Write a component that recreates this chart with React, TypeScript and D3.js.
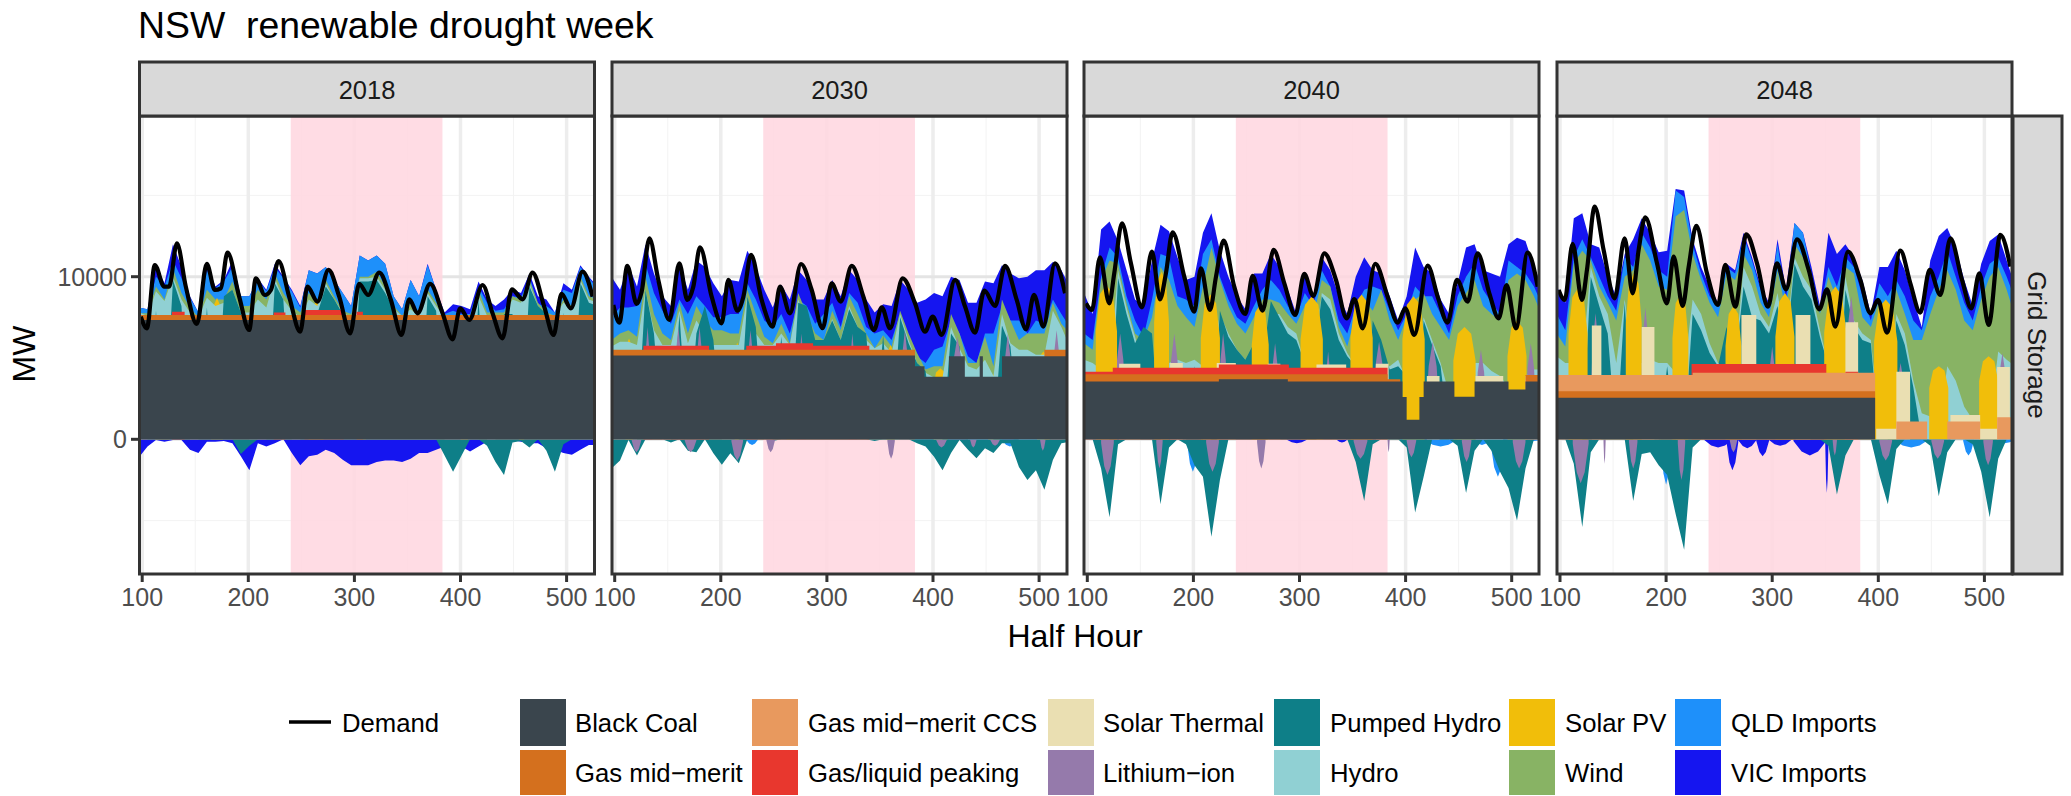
import React from "react";
import * as d3 from "d3";

const years = ["2018", "2030", "2040", "2048"];
const xTicks = [100, 200, 300, 400, 500];
const yTicks = [0, 10000];
const droughtWeek = [240, 383];
const grid = d3.range(97, 530, 8);

const colors: Record<string, string> = {
  "Black Coal": "#3A454D", "Gas mid−merit": "#D4701E", "Gas mid−merit CCS": "#E8995E", "Gas/liquid peaking": "#E8372E",
  "Solar Thermal": "#EADFB2", "Lithium−ion": "#957AAB", "Pumped Hydro": "#0E7F88", "Hydro": "#90D0D3",
  "Solar PV": "#F1BE0A", "Wind": "#88B364", "QLD Imports": "#1E90FA", "VIC Imports": "#1515F0",
};
const legendNames = ["Black Coal", "Gas mid−merit", "Gas mid−merit CCS", "Gas/liquid peaking", "Solar Thermal", "Lithium−ion", "Pumped Hydro", "Hydro", "Solar PV", "Wind", "QLD Imports", "VIC Imports"];

const demandX = [98.7,104.4,111.9,120.7,125.4,132.7,141.1,151.5,160.9,168.5,174.1,180.4,191.4,200.8,207.1,215.6,221.3,228.5,238.5,248.9,255.8,265.2,275.6,285.7,296,304.5,313,323.4,334.4,344.4,351.7,359.5,371.4,383.1,392.5,399.7,408.2,420.8,430.2,439.6,448.4,458.5,467.9,478.9,487.7,495.2,504,515,524.5];
const demand2018 = [7544,6826,10720,9390,9390,12050,9390,7093,10783,9184,9286,11480,8774,6724,9900,8876,9184,10967,8774,6621,9390,8466,10414,8774,6519,9553,8876,10250,8569,6416,8610,7749,9553,7749,6150,8056,7339,9491,7749,6211,9225,8610,10250,8159,6416,8938,8056,10311,8774];
const demand2030 = [8260,7175,10660,8320,9080,12360,9800,7340,10820,8570,9390,11810,8770,7130,9800,7910,8770,11340,8570,6930,9390,7750,10780,9180,6830,9590,8470,10660,8770,6720,8120,6830,9900,8360,6620,7540,6420,9800,8160,6560,9140,8200,10660,8570,6765,8880,6930,10820,8980];
const demand2040 = [8364,7954,11193,8364,10209,13284,10824,8118,11541,8610,10209,12730,10004,7851,10516,7954,10004,12218,9389,7708,10045,7913,11644,9594,7646,10168,8815,11439,9799,7441,8630,6826,10783,8774,7175,8056,6416,10680,8774,7175,9799,8466,11439,8979,7441,9491,6826,11480,9389];
const demand2048 = [9184,8569,12013,8569,10414,14309,11644,8672,12362,8979,11644,13653,10824,8364,11234,8200,10619,13120,10209,8262,10722,8159,12608,10824,8159,10824,9225,12300,10414,7995,9225,6929,11542,9799,7749,8569,6560,11603,9594,7790,10414,8877,12362,9799,8057,10209,7032,12567,10619];

// ---------- 2018 ----------
const vic2018 = [8100,8000,10700,9600,12000,10600,8800,7800,10800,9400,9800,
  11000,8800,8800,9900,9200,10800,10000,9200,8200,10400,10200,
  10600,9800,9000,8200,11300,11000,11300,10800,8800,8000,9800,
  8800,10800,9200,7800,8300,8200,8000,9700,8600,8200,8600,
  9200,9000,10200,8800,8600,7800,9600,9200,10700,10000,9400];
const qld2018 = [8100,8000,10000,9400,11000,9900,8700,7800,10400,9300,9700,
  10600,8800,8800,9800,9100,10600,9900,9100,8100,10400,10200,
  10600,9800,9000,8200,11300,11000,11300,10800,8800,8000,9800,
  8800,10700,9200,7700,7900,7700,7700,9400,8400,7900,8000,
  8800,8700,10000,8300,8200,7800,9200,9000,10600,9900,9300];
const wind2018 = [7750,7750,9400,8600,10500,9000,8100,7500,9200,8600,8600,
  9700,8200,8200,9200,8600,10200,9000,8200,7800,9000,8400,
  9800,8800,7900,7700,10000,10000,10300,9400,8200,7600,8400,
  7800,9200,8400,7500,7500,7500,7500,9200,7800,7800,7800,
  8800,8600,9800,8400,7800,7600,8600,8200,10000,8800,8600];
const pv2018 = [[112,126,8650],[165,176,8700],[257,271,8500],[302,311,8700],[400,407,7700],[455,460,8000]];
const hydro2018 = [7800,7600,9100,8500,10000,8600,7800,7500,8700,8200,8400,
  9200,7800,7800,8600,8100,9900,8600,7900,7500,8600,8200,
  9600,8600,7800,7500,9900,9900,10000,9200,8000,7600,8000,
  7600,9000,8200,7500,7500,7500,7500,8800,7600,7600,7600,
  8600,8400,9600,8200,7600,7600,8400,8000,9800,8600,8400];
const ph2018 = [0,0,7900,0,9800,8200,0,0,8100,0,8800,
  9200,7800,0,0,0,9600,8600,0,0,7700,7700,
  9400,8600,7700,0,9700,9700,9800,9000,8000,0,7700,
  0,8800,7900,0,0,0,0,8600,0,0,7700,
  7700,0,9400,8200,7700,0,7800,0,9600,8400,8200];
const peak2018 = [[128,140,7850],[224,235,7800],[253,290,7950],[302,308,7850]];
const gas2018 = [[97,529,7650]];
const coal2018 = [[97,529,7340]];
const vicNeg2018 = [-1100,-450,-50,-150,-50,-50,-650,-850,-150,-150,-100,
  -250,-1050,-1900,-250,-450,-250,0,-850,-1600,-1050,-950,
  -650,-850,-1250,-1600,-1600,-1600,-1400,-1300,-1300,-1400,-1200,
  -850,-850,-650,-450,-450,-450,-750,-450,-150,-50,-150,
  -50,-150,-250,-250,-550,-650,-850,-950,-650,-350,-350];
const phNeg2018 = [0,0,0,0,0,0,0,0,0,0,0,
  0,-900,-400,0,0,0,0,0,0,0,0,
  0,0,0,0,0,0,0,0,0,0,0,
  0,0,0,-1000,-2000,-1000,0,0,-400,-1400,-2200,
  -200,-100,-500,0,-700,-2000,-300,0,0,0,0];

// ---------- 2030 ----------
const vic2030 = [10000,9200,10700,9400,12000,10200,8800,8200,10800,9200,11000,
  10600,9600,8800,9800,9700,11600,10600,9200,8100,9500,8600,
  10400,9800,8600,8600,9800,8800,10400,9800,8600,7800,8300,
  8200,9800,9200,8400,8600,9000,8800,10000,9800,8400,8400,
  9700,9600,10700,10200,9900,10000,10400,10400,10900,10400,9400];
const qld2030 = [7500,8100,8100,8200,10800,9000,7900,7100,8600,7700,8800,
  8200,7500,7500,7700,7700,9600,8600,7300,6900,7700,6500,
  8600,8200,7100,7700,8400,6900,9000,8400,6900,6500,6700,
  6100,7700,6300,5100,4700,5500,5700,7300,6500,5100,4700,
  6500,6500,8200,7300,7300,6500,7300,7100,8600,7700,6900];
const wind2030 = [6100,6500,6700,6300,10000,7700,6500,6100,8400,6500,8200,
  7300,6700,6700,6500,6500,9200,7700,6300,5900,7100,5900,
  9000,7700,6500,6100,7900,6700,8800,7700,6500,5600,6400,
  5700,7900,6500,5300,4300,4500,4500,7700,6500,4700,4700,
  6300,4500,8600,7300,6100,6500,6500,6500,8400,7100,6500];
const pv2030 = [[110,117,6200],[213,218,5950],[262,266,5950],[356,364,5800],[400,414,4370],[452,463,4020],[498,510,5400]];
const hydro2030 = [5700,6000,6000,5800,9200,6700,5800,5800,7900,5900,7300,
  6500,5800,5800,5800,5800,8800,6500,5800,5800,6500,5800,
  8600,7100,5800,5800,7400,6100,8200,6900,6100,5600,5900,
  5300,7700,6100,4700,4100,3800,3800,6900,5600,4500,4300,
  4900,3900,7700,5900,5500,5500,5200,5200,7900,6900,5700];
const ph2030 = [0,0,0,0,9200,6500,0,0,7700,0,6500,
  8200,6100,0,0,0,8800,6900,0,0,6300,0,
  8400,8200,6100,6100,7300,6100,8000,6900,6500,0,6400,
  0,7500,5900,4700,4200,0,0,6500,5700,0,0,
  0,0,7000,5700,0,0,0,0,0,0,0];
const li2030 = [[127,135,6900],[155,165,6900],[175,185,6900],[223,233,6700],[272,280,6500],[320,328,6500],[368,379,6700],[415,431,6300],[465,476,6500],[511,522,6700]];
const peak2030 = [[127,189,5750],[224,340,5750],[252,287,5900]];
const gas2030 = [[97,383,5500],[505,529,5500]];
const coal2030 = [[97,383,5150],[383,392,4500],[392,415,3850],[415,430,5100],[430,444,3850],[444,447,5100],[447,465,3850],[465,529,5100]];
const qldNeg2030 = [[224,235,-350],[465,480,-450],[505,529,-250]];
const phNeg2030 = [-1800,-1300,-50,-1000,0,0,0,-200,0,-700,-800,
  0,-860,-1570,-860,-1480,0,0,0,-100,0,0,
  0,0,0,0,0,0,0,0,0,-100,0,
  0,0,0,-250,-450,-1070,-1900,-850,-50,-650,-1170,
  -550,-850,-250,-250,-1700,-2500,-1900,-3100,-1270,-250,-150];
const liNeg2030 = [[116,125,-800],[166,177,-800],[210,221,-1300],[243,251,-800],[357,364,-1200],[403,413,-500],[435,441,-500],[454,463,-400],[501,506,-700]];

// ---------- 2040 ----------
const vic2040 = [9000,7700,12900,13400,12200,10400,8600,8200,11000,13200,12800,
  11200,9800,10000,12700,13900,11600,10000,8800,8000,10200,10200,
  11400,10600,9200,7700,10300,8800,11200,10400,8800,7700,10000,
  11200,10400,10200,8800,7300,8800,11800,10600,10200,8600,7700,
  9600,11800,12000,10400,10200,10000,12000,12400,12200,10600,9400];
const qld2040 = [6500,6100,10000,11800,11200,8800,7300,6300,8600,11400,11200,
  8800,8600,8200,11400,12300,10000,8600,7500,7100,8200,9200,
  9800,9200,8200,7500,9000,8200,10400,9400,7300,6500,8200,
  9200,9400,9200,7900,6700,7700,9400,8800,8800,7700,6500,
  8800,10000,10800,9200,8400,7700,11000,10600,10200,9400,8200];
const wind2040 = [5900,5500,9800,11000,10800,8400,6500,6100,7500,10600,9800,
  8200,7500,6900,9400,11800,9800,8200,7100,6500,7500,8600,
  8600,8400,7700,7100,8200,7500,9800,9400,6900,5700,7700,
  8600,7900,9200,7300,6100,7500,8600,9000,7700,6900,6100,
  8200,9000,9800,8200,7700,7300,9800,10200,9800,8800,7500];
const pv2040 = [[108,128,9500],[163,177,10300],[207,225,8900],[255,271,8300],[301,322,8800],[348,369,8900],[397,418,8800],[445,466,6900],[496,514,7300]];
const hydro2040 = [4900,4700,4300,4300,10400,8100,6300,4500,4500,4500,4700,
  4900,4700,4900,4500,4400,7700,6500,5500,4900,4900,4700,
  7700,7700,6900,6500,4700,4700,9000,8600,6500,5300,4500,
  4200,4500,4500,4500,4900,3600,3400,7500,6100,4700,2800,
  3600,2600,4700,4700,4200,3900,3200,3200,3900,4300,4300];
const ph2040 = [0,0,0,0,9900,7700,5900,6900,6500,0,0,
  0,0,4500,0,0,7900,6300,5500,4900,5900,4900,
  8500,7500,6500,6100,4700,4700,8800,8000,6100,5100,4500,
  0,7300,6100,4300,4500,3900,0,7300,5800,4500,0,
  0,0,0,0,0,0,0,0,0,0,0];
const li2040 = [[125,137,6500],[176,188,6500],[223,233,6500],[272,282,5900],[323,331,5400],[368,382,6000],[418,433,6000],[465,477,5500],[512,524,5900]];
const st2040 = [[130,150,4650],[178,190,4700],[222,240,4700],[270,282,4650],[316,344,4600],[372,384,4650],[420,432,3900],[466,492,3900],[513,529,3900]];
const peak2040 = [[97,124,4150],[124,224,4400],[224,290,4600],[290,383,4400]];
const gas2040 = [[97,383,4000],[383,395,3700],[513,529,3950]];
const coal2040 = [[97,224,3550],[224,289,3700],[289,397,3550],[397,401,2600],[401,413,1200],[413,417,2600],[417,446,3550],[446,465,2620],[465,497,3550],[497,513,3070],[513,529,3550]];
const vicNeg2040 = [[288,307,-250],[335,345,-200]];
const qldNeg2040 = [[194,205,-2000],[418,448,-450],[464,480,-350],[480,494,-2300],[513,529,-100]];
const phNeg2040 = [0,0,-1800,-4800,-300,0,0,0,0,-4000,-500,
  0,-300,-1600,-2300,-6000,-2500,0,0,0,0,0,
  0,0,0,0,0,0,0,0,0,0,-1400,
  -3800,-300,0,0,0,-500,-4500,-2300,0,0,0,
  -400,-3300,-700,0,-700,-2000,-3000,-5000,-1800,0,0];
const liNeg2040 = [[113,125,-2200],[165,171,-1800],[212,224,-2000],[260,268,-1800],[351,364,-1200],[383,385,-800],[401,410,-1100],[453,462,-1400],[501,513,-1800]];

// ---------- 2048 ----------
const vic2048 = [9400,8400,13600,13900,12000,11800,10000,8800,11400,12300,13600,
  12700,11500,11600,15400,15300,12300,10600,9400,8400,10800,10400,
  12700,11200,9400,8400,12300,9200,13300,12700,10600,8200,12700,
  11400,12000,11200,9800,7700,10600,10600,11600,10400,8600,6900,
  11000,12500,13000,11800,9800,8200,10800,12200,12600,11000,9400];
const qld2048 = [7700,6700,11200,12300,11200,10000,8800,7900,11200,10600,12700,
  11800,10400,10000,15300,14900,12000,10200,8800,8200,10600,10200,
  12500,11000,9200,8200,12000,8600,13300,12700,10200,7900,10600,
  9400,11200,10600,8800,7300,9600,8800,9800,8800,7300,6700,
  8800,10000,11600,10000,8400,7300,9400,10800,11200,10000,8600];
const wind2048 = [6500,5700,10800,11600,11000,9400,8400,7300,10000,10400,12000,
  11000,9400,9200,13700,14100,11400,9800,8400,7500,10200,9800,
  11400,10400,8400,7500,10400,7900,12000,11200,10000,7700,10000,
  8600,10600,10200,7500,6900,8600,7700,9200,7700,6100,6100,
  7700,9200,10400,9200,7300,6700,8600,10000,10600,9200,7500];
const pv2048 = [[108,126,9300],[162,177,10200],[206,221,8900],[256,271,8200],[303,321,9000],[349,370,9400],[396,418,8600],[448,466,4500],[495,513,5100]];
const hydro2048 = [5100,4700,4700,4700,10600,8800,7700,4700,8600,4700,4700,
  4900,4700,4700,4100,4100,8600,7700,5900,4700,4700,4700,
  10600,9400,7700,6900,9000,5900,11200,10000,9200,6700,4500,
  4300,10000,7300,6500,6100,800,700,7700,6500,3600,1600,
  1400,600,4500,3600,2000,1200,1000,1000,5400,4900,4500];
const ph2048 = [0,0,0,0,10000,8200,6500,0,8400,0,0,
  0,0,4500,0,0,7700,6700,5300,4500,6900,4500,
  9400,7500,7300,6500,8200,5300,10800,9400,8600,6300,4500,
  0,9200,6900,6100,5900,0,0,7300,5800,3200,0,
  0,0,0,0,0,0,0,0,0,0,0];
const li2048 = [[128,139,7750],[175,186,8100],[295,305,5700],[367,382,8800],[415,427,4700],[511,523,5300]];
const st2048 = [[130,139,7000],[177,189,6900],[271,285,7650],[322,336,7650],[369,381,7200],[398,417,650],[417,430,4150],[468,496,1500],[496,512,650],[512,524,4450]];
const peak2048 = [[224,351,4630],[369,381,4150]];
const ccs2048 = [[97,225,3950],[225,397,4100],[417,446,1100],[465,496,1100],[512,529,1350]];
const gas2048 = [[97,397,2950]];
const coal2048 = [[97,397,2550]];
const vicNeg2048 = [[236,262,-500],[257,268,-1900],[268,285,-550],[285,297,-1050],[297,318,-400],[320,351,-1000],[350,353,-3300],[353,372,-800]];
const qldNeg2048 = [[195,205,-2800],[415,447,-500],[480,490,-1000],[509,529,-250]];
const phNeg2048 = [0,0,-1500,-5400,-800,0,0,0,0,-3800,-900,
  -800,-1600,-2200,-4600,-6800,-500,0,0,0,0,0,
  0,0,0,0,0,0,0,0,0,0,-400,
  -3400,-1000,0,0,0,-2200,-4000,-600,0,0,0,
  -400,-3500,-800,0,0,-300,-2000,-4800,-1200,0,0];
const liNeg2048 = [[112,127,-2700],[141,143,-1500],[165,173,-1800],[211,218,-2500],[260,267,-800],[357,361,-1000],[401,413,-1300],[450,462,-1200],[499,508,-1600]];

type L = [string, any[]];
const panelData: { demand: number[]; layers: L[] }[] = [
  { demand: demand2018, layers: [["VIC Imports", vicNeg2018], ["Pumped Hydro", phNeg2018], ["VIC Imports", vic2018], ["QLD Imports", qld2018], ["Wind", wind2018], ["Solar PV", pv2018], ["Hydro", hydro2018], ["Pumped Hydro", ph2018], ["Gas/liquid peaking", peak2018], ["Gas mid−merit", gas2018], ["Black Coal", coal2018]] },
  { demand: demand2030, layers: [["QLD Imports", qldNeg2030], ["Pumped Hydro", phNeg2030], ["Lithium−ion", liNeg2030], ["VIC Imports", vic2030], ["QLD Imports", qld2030], ["Wind", wind2030], ["Solar PV", pv2030], ["Hydro", hydro2030], ["Pumped Hydro", ph2030], ["Lithium−ion", li2030], ["Gas/liquid peaking", peak2030], ["Gas mid−merit", gas2030], ["Black Coal", coal2030]] },
  { demand: demand2040, layers: [["VIC Imports", vicNeg2040], ["QLD Imports", qldNeg2040], ["Pumped Hydro", phNeg2040], ["Lithium−ion", liNeg2040], ["VIC Imports", vic2040], ["QLD Imports", qld2040], ["Wind", wind2040], ["Hydro", hydro2040], ["Pumped Hydro", ph2040], ["Lithium−ion", li2040], ["Solar PV", pv2040], ["Solar Thermal", st2040], ["Gas/liquid peaking", peak2040], ["Gas mid−merit", gas2040], ["Black Coal", coal2040]] },
  { demand: demand2048, layers: [["VIC Imports", vicNeg2048], ["QLD Imports", qldNeg2048], ["Pumped Hydro", phNeg2048], ["Lithium−ion", liNeg2048], ["VIC Imports", vic2048], ["QLD Imports", qld2048], ["Wind", wind2048], ["Hydro", hydro2048], ["Pumped Hydro", ph2048], ["Lithium−ion", li2048], ["Solar PV", pv2048], ["Solar Thermal", st2048], ["Gas/liquid peaking", peak2048], ["Gas mid−merit CCS", ccs2048], ["Gas mid−merit", gas2048], ["Black Coal", coal2048]] },
];

const panelLeft = [139.5, 612, 1084, 1557];
const panelWidth = 455;
const x100 = [142.2, 614.7, 1087.3, 1560];
const top = 116, bottom = 574;
const y = d3.scaleLinear().domain([0, 10000]).range([439.3, 276.7]);
const font = "'Liberation Sans', Arial, sans-serif";
const border = "#333333", tickColor = "#4D4D4D";

function layerPath(name: string, vals: any[], x: d3.ScaleLinear<number, number>) {
  if (Array.isArray(vals[0])) {
    const a = d3.area<number[]>().x((d) => x(d[0])).y0(y(0)).y1((d) => y(d[1]));
    return (vals as number[][]).map(([x0, x1, v]) => {
      const w = x1 - x0;
      if (v < 0 || name === "Lithium−ion")
        return a([[x0, v * 0.1], [x0 + w * 0.25, v * 0.75], [x0 + w / 2, v], [x1 - w * 0.25, v * 0.75], [x1, v * 0.1]]);
      if (name === "Solar PV")
        return a([[x0, v * 0.7], [x0 + w * 0.2, v * 0.94], [x0 + w / 2, v], [x1 - w * 0.2, v * 0.94], [x1, v * 0.7]]);
      return a([[x0, v], [x1, v]]);
    }).join("");
  }
  const a = d3.area<number>().x((_, i) => x(grid[i])).y0(y(0)).y1((d) => y(d));
  return a(vals as number[]) || "";
}

function Panel({ i }: { i: number }) {
  const L = panelLeft[i], R = L + panelWidth;
  const x = d3.scaleLinear().domain([100, 500]).range([x100[i], x100[i] + 424.4]);
  const { demand, layers } = panelData[i];
  const line = d3.line<number>().curve(d3.curveMonotoneX).x((_, k) => x(demandX[k])).y((d) => y(d));
  const minors = [150, 250, 350, 450];
  return (
    <g>
      <defs><clipPath id={`c${i}`}><rect x={L} y={top} width={panelWidth} height={bottom - top} /></clipPath></defs>
      <rect x={L} y={top} width={panelWidth} height={bottom - top} fill="#fff" />
      <g clipPath={`url(#c${i})`}>
        {minors.map((t) => <line key={t} x1={x(t)} x2={x(t)} y1={top} y2={bottom} stroke="#F3F3F3" strokeWidth={1} />)}
        {[-5000, 5000, 15000].map((t) => <line key={t} x1={L} x2={R} y1={y(t)} y2={y(t)} stroke="#F3F3F3" strokeWidth={1} />)}
        {xTicks.map((t) => <line key={t} x1={x(t)} x2={x(t)} y1={top} y2={bottom} stroke="#EDEDED" strokeWidth={3.5} />)}
        {yTicks.map((t) => <line key={t} x1={L} x2={R} y1={y(t)} y2={y(t)} stroke="#E4E4E4" strokeWidth={3} />)}
        <rect x={x(droughtWeek[0])} y={top} width={x(droughtWeek[1]) - x(droughtWeek[0])} height={bottom - top} fill="#FFD6DF" fillOpacity={0.85} />
        {layers.map(([name, vals], k) => <path key={k} d={layerPath(name, vals, x)} fill={colors[name]} />)}
        <path d={line(demand) || ""} fill="none" stroke="#000" strokeWidth={4.2} strokeLinejoin="round" />
      </g>
      <rect x={L} y={top} width={panelWidth} height={bottom - top} fill="none" stroke={border} strokeWidth={3} />
      <rect x={L} y={62} width={panelWidth} height={top - 62} fill="#D9D9D9" stroke={border} strokeWidth={3} />
      <text x={(L + R) / 2} y={99} textAnchor="middle" fontSize={25.5} fill="#1A1A1A" fontFamily={font}>{years[i]}</text>
      {xTicks.map((t) => (
        <g key={t}>
          <line x1={x(t)} x2={x(t)} y1={bottom} y2={bottom + 8} stroke={border} strokeWidth={3} />
          <text x={x(t)} y={606} textAnchor="middle" fontSize={25} fill={tickColor} fontFamily={font}>{t}</text>
        </g>
      ))}
    </g>
  );
}

const legendCols = [520, 752, 1048, 1274, 1509, 1675];
const legendTextX = [575, 808, 1103, 1330, 1565, 1731];
const rowsY = [699, 750];
const rowsH = [47, 45];
const textY = [732, 782];

export default function App() {
  return (
    <svg width={2071} height={796} style={{ position: "absolute", left: 0, top: 0, display: "block" }} fontFamily={font}>
      <rect width={2071} height={796} fill="#fff" />
      <text x={138} y={38} fontSize={37.4} fill="#000" xmlSpace="preserve" style={{ whiteSpace: "pre" }}>NSW  renewable drought week</text>
      {years.map((_, i) => <Panel key={i} i={i} />)}
      <rect x={2013} y={116} width={49} height={bottom - top} fill="#D9D9D9" stroke={border} strokeWidth={3} />
      <text transform={`translate(2028,345) rotate(90)`} textAnchor="middle" fontSize={26} fill="#1A1A1A">Grid Storage</text>
      {yTicks.map((t) => (
        <g key={t}>
          <line x1={131} x2={139} y1={y(t)} y2={y(t)} stroke={border} strokeWidth={3} />
          <text x={127} y={y(t) + 9} textAnchor="end" fontSize={25} fill={tickColor}>{t}</text>
        </g>
      ))}
      <text transform={`translate(35,354) rotate(-90)`} textAnchor="middle" fontSize={32} fill="#000">MW</text>
      <text x={1075} y={647} textAnchor="middle" fontSize={32} fill="#000">Half Hour</text>
      <line x1={289} x2={331} y1={722} y2={722} stroke="#000" strokeWidth={3.4} />
      <text x={342} y={732} fontSize={25.7} fill="#000">Demand</text>
      {legendNames.map((name, k) => {
        const c = Math.floor(k / 2), r = k % 2;
        return (
          <g key={name}>
            <rect x={legendCols[c]} y={rowsY[r]} width={46} height={rowsH[r]} fill={colors[name]} />
            <text x={legendTextX[c]} y={textY[r]} fontSize={25.7} fill="#000">{name}</text>
          </g>
        );
      })}
    </svg>
  );
}
